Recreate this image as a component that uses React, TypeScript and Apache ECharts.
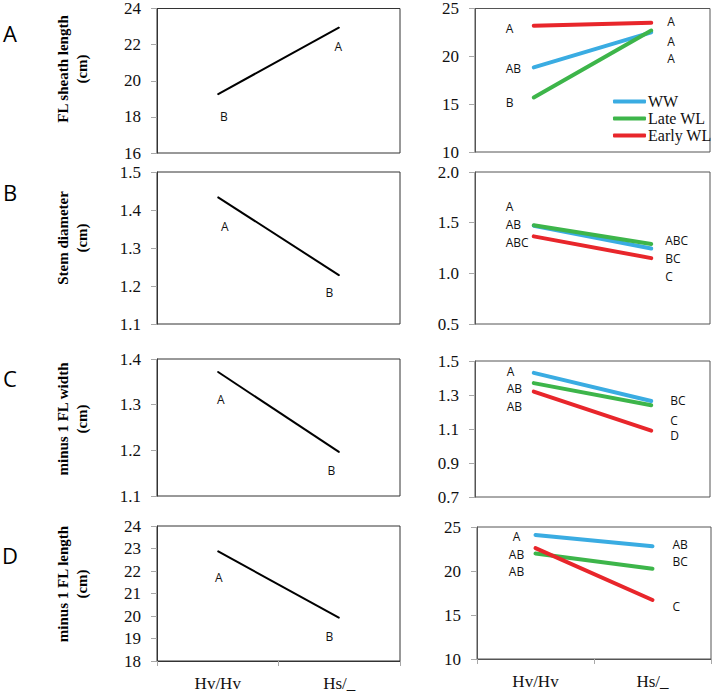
import React, { useEffect, useRef } from "react";
import * as echarts from "echarts";

const categories = ["Hv/Hv", "Hs/_"];
const groups = ["WW", "Late WL", "Early WL"];
const groupColors = ["#3AACE2", "#3DB54A", "#E8262B"];

// Left column (single line)
const sheathMain = [19.25, 22.95];
const stemMain = [1.434, 1.228];
const widthMain = [1.372, 1.196];
const lengthMain = [22.88, 19.92];
const sheathMainLetters = ["B", "A"];
const stemMainLetters = ["A", "B"];
const widthMainLetters = ["A", "B"];
const lengthMainLetters = ["A", "B"];

// Right column (three groups: WW, Late WL, Early WL)
const sheathWW = [18.85, 22.5];
const sheathLate = [15.7, 22.7];
const sheathEarly = [23.2, 23.5];
const stemWW = [1.47, 1.245];
const stemLate = [1.475, 1.29];
const stemEarly = [1.365, 1.15];
const widthWW = [1.43, 1.265];
const widthLate = [1.37, 1.24];
const widthEarly = [1.32, 1.09];
const lengthWW = [24.1, 22.8];
const lengthLate = [22.0, 20.25];
const lengthEarly = [22.6, 16.7];

const sheathWWLetters = ["AB", "A"];
const sheathLateLetters = ["B", "A"];
const sheathEarlyLetters = ["A", "A"];
const stemWWLetters = ["A", "BC"];
const stemLateLetters = ["AB", "ABC"];
const stemEarlyLetters = ["ABC", "C"];
const widthWWLetters = ["A", "BC"];
const widthLateLetters = ["AB", "C"];
const widthEarlyLetters = ["AB", "D"];
const lengthWWLetters = ["A", "AB"];
const lengthLateLetters = ["AB", "BC"];
const lengthEarlyLetters = ["AB", "C"];

// Axis ticks
const sheathMainTicks = [16, 18, 20, 22, 24];
const stemMainTicks = [1.1, 1.2, 1.3, 1.4, 1.5];
const widthMainTicks = [1.1, 1.2, 1.3, 1.4];
const lengthMainTicks = [18, 19, 20, 21, 22, 23, 24];
const sheathTicks = [10, 15, 20, 25];
const stemTicks = [0.5, 1.0, 1.5, 2.0];
const widthTicks = [0.7, 0.9, 1.1, 1.3, 1.5];
const lengthTicks = [10, 15, 20, 25];

const panelLetters = ["A", "B", "C", "D"];
const yTitles = [
  "FL sheath length\n(cm)",
  "Stem diameter\n(cm)",
  "minus 1 FL width\n(cm)",
  "minus 1 FL length\n(cm)",
];

export default function App() {
  const ref = useRef<HTMLDivElement>(null);
  useEffect(() => {
    if (!ref.current) return;
    const chart = echarts.init(ref.current, null, { renderer: "svg" });

    const serif = "Liberation Serif";
    const sans = "Open Sans";

    // layout per panel row: [leftTop, leftHeight, rightTop, rightHeight]
    const rows = [
      [7, 146, 8, 144],
      [172, 152, 172, 152],
      [359, 137, 361, 136],
      [526, 135, 527, 132],
    ];
    const grids: any[] = [];
    const xAxes: any[] = [];
    const yAxes: any[] = [];
    const series: any[] = [];

    const leftTicks = [sheathMainTicks, stemMainTicks, widthMainTicks, lengthMainTicks];
    const rightTicks = [sheathTicks, stemTicks, widthTicks, lengthTicks];
    const decimals = [0, 1, 1, 0];
    const leftData = [sheathMain, stemMain, widthMain, lengthMain];
    const leftLetters = [sheathMainLetters, stemMainLetters, widthMainLetters, lengthMainLetters];
    const rightData = [
      [sheathWW, sheathLate, sheathEarly],
      [stemWW, stemLate, stemEarly],
      [widthWW, widthLate, widthEarly],
      [lengthWW, lengthLate, lengthEarly],
    ];
    const rightLetters = [
      [sheathWWLetters, sheathLateLetters, sheathEarlyLetters],
      [stemWWLetters, stemLateLetters, stemEarlyLetters],
      [widthWWLetters, widthLateLetters, widthEarlyLetters],
      [lengthWWLetters, lengthLateLetters, lengthEarlyLetters],
    ];
    // label offsets (styling) for left column: [dx, dy] per point
    const leftOffsets = [
      [[6, 22], [-1, 19]],
      [[7, 29], [-10, 17]],
      [[3, 28], [-8, 18]],
      [[1, 26], [-10, 19]],
    ];
    // right column label dy per series per point
    const rightDy = [
      [[1, 26], [5, 11], [3, -1]],
      [[-19, 10], [-1, -3], [6, 18]],
      [[-1, 0], [5, 15], [15, 5]],
      [[2, -2], [18, -7], [6, 6]],
    ];
    const rightDx = [
      [-28, 16],
      [-28, 14],
      [-27, 19],
      [-19, 20],
    ];

    const makeAxes = (
      gi: number,
      left: number,
      width: number,
      top: number,
      height: number,
      ticks: number[],
      dec: number,
      showX: boolean,
      borderColor: string
    ) => {
      grids.push({
        left,
        top,
        width,
        height,
        show: true,
        borderColor,
        borderWidth: 1,
        backgroundColor: "transparent",
        containLabel: false,
      });
      xAxes.push({
        type: "category",
        gridIndex: gi,
        data: categories,
        boundaryGap: true,
        axisLine: { show: showX, lineStyle: { color: borderColor } },
        axisTick: { show: showX, length: 5, lineStyle: { color: "#A8A8A8" } },
        axisLabel: {
          show: showX,
          margin: 14,
          fontFamily: serif,
          fontSize: 17,
          color: "#111",
        },
        splitLine: { show: false },
      });
      const min = ticks[0];
      const max = ticks[ticks.length - 1];
      yAxes.push({
        type: "value",
        gridIndex: gi,
        min,
        max,
        interval: (max - min) / (ticks.length - 1),
        axisLine: { show: true, lineStyle: { color: borderColor } },
        axisTick: {
          show: true,
          length: 6,
          customValues: ticks,
          lineStyle: { color: "#A8A8A8" },
        },
        axisLabel: {
          customValues: ticks,
          margin: 16,
          fontFamily: serif,
          fontSize: 17,
          color: "#111",
          formatter: (v: number) => v.toFixed(dec),
        },
        splitLine: { show: false },
      });
    };

    for (let r = 0; r < 4; r++) {
      const [lt, lh, rt, rh] = rows[r];
      const showX = r === 3;
      const gl = r * 2;
      const gr = r * 2 + 1;
      makeAxes(gl, 157, 243, lt, lh, leftTicks[r], decimals[r], showX, "#333");
      makeAxes(gr, showX ? 477 : 475, showX ? 234 : 235, rt, rh, rightTicks[r], decimals[r], showX, "#555");

      series.push({
        type: "line",
        xAxisIndex: gl,
        yAxisIndex: gl,
        symbol: "circle",
        symbolSize: 1,
        showSymbol: true,
        silent: true,
        lineStyle: { color: "#000", width: 2 },
        itemStyle: { color: "#000" },
        data: leftData[r].map((v, i) => ({
          value: v,
          label: {
            show: true,
            position: "inside",
            formatter: leftLetters[r][i],
            offset: leftOffsets[r][i],
            fontFamily: sans,
            fontSize: 12,
            color: "#111",
          },
        })),
      });

      for (let s = 0; s < 3; s++) {
        series.push({
          type: "line",
          name: groups[s],
          xAxisIndex: gr,
          yAxisIndex: gr,
          symbol: "circle",
          symbolSize: 1,
          showSymbol: true,
          silent: true,
          color: groupColors[s],
          lineStyle: { color: groupColors[s], width: 4, cap: "round" },
          itemStyle: { color: groupColors[s] },
          data: rightData[r][s].map((v, i) => ({
            value: v,
            label: {
              show: true,
              position: "inside",
              formatter: rightLetters[r][s][i],
              offset: [rightDx[r][i], rightDy[r][s][i]],
              align: r === 3 && i === 0 ? "center" : "left",
              fontFamily: sans,
              fontSize: 12,
              color: "#111",
            },
          })),
        });
      }
    }

    const titleCenters = [69, 238, 419, 584];
    const letterCenters = [33, 192, 378, 555];
    const graphics: any[] = [];
    for (let r = 0; r < 4; r++) {
      graphics.push({
        type: "text",
        x: 72,
        y: titleCenters[r],
        rotation: Math.PI / 2,
        style: {
          text: yTitles[r],
          align: "center",
          verticalAlign: "middle",
          fontFamily: serif,
          fontWeight: "bold",
          fontSize: 15,
          lineHeight: 19,
          fill: "#000",
        },
      });
      graphics.push({
        type: "text",
        x: 10,
        y: letterCenters[r],
        style: {
          text: panelLetters[r],
          align: "center",
          verticalAlign: "middle",
          fontFamily: sans,
          fontSize: 22,
          fill: "#000",
        },
      });
    }

    chart.setOption({
      animation: false,
      backgroundColor: "#fff",
      grid: grids,
      xAxis: xAxes,
      yAxis: yAxes,
      series,
      graphic: graphics,
      legend: {
        data: groups,
        orient: "vertical",
        left: 608,
        top: 88,
        icon: "roundRect",
        itemWidth: 33,
        itemHeight: 4,
        itemGap: 0,
        selectedMode: false,
        textStyle: {
          fontFamily: serif,
          fontSize: 16,
          lineHeight: 17,
          color: "#111",
          padding: [0, 0, 0, -3],
        },
      },
    });
    return () => chart.dispose();
  }, []);
  return (
    <div
      ref={ref}
      style={{ position: "absolute", left: 0, top: 0, width: 713, height: 694 }}
    />
  );
}
